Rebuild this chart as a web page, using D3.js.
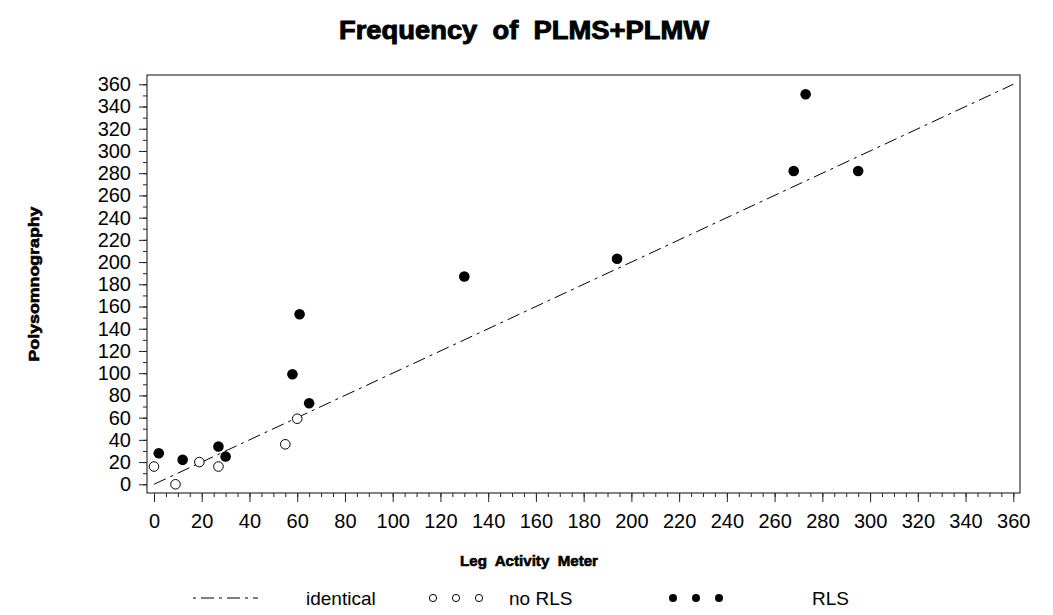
<!DOCTYPE html>
<html>
    <head>
        <title>Frequency of PLMS+PLMW</title>
        <script src="https://d3js.org/d3.v7.min.js"></script>
        <style>
            body { margin: 0; background: #fff; }
            text { font-family: "Liberation Sans", Arial, sans-serif; fill: #000; }
        </style>
    </head>
    <body>
        <script>
            // data
            const noRlsX = [0, 9, 19, 27, 55, 60];
            const noRlsY = [16, 0, 20, 16, 36, 59];
            const rlsX = [2, 12, 27, 30, 58, 61, 65, 130, 194, 268, 273, 295];
            const rlsY = [28, 22, 34, 25, 99, 153, 73, 187, 203, 282, 351, 282];
            const identLine = [0, 360];
            const majorTicks = d3.range(0, 361, 20);
            const xMinorTicks = d3.range(0, 361, 5);
            const yMinorTicks = d3.range(0, 361, 10);

            const WIDTH = 1053;
            const HEIGHT = 615;

            const svg = d3.select('body').append('svg')
                .attr("width", WIDTH)
                .attr("height", HEIGHT);

            // plot frame box
            const frame = {left: 147, right: 1020, top: 75, bottom: 493};

            const xScale = d3.scaleLinear().domain([0, 360]).range([154, 1013.3]);
            const yScale = d3.scaleLinear().domain([0, 360]).range([484.3, 84.3]);

            // title
            svg.append("text")
                .attr("x", 524)
                .attr("y", 39)
                .attr("text-anchor", "middle")
                .attr("textLength", 370)
                .attr("lengthAdjust", "spacingAndGlyphs")
                .style("font-size", "25px")
                .style("font-weight", "bold")
                .style("stroke", "#000")
                .style("stroke-width", 0.9)
                .style("white-space", "pre")
                .text("Frequency  of  PLMS+PLMW");

            // x axis: minor ticks then major ticks with labels
            svg.append("g")
                .attr("transform", "translate(0," + frame.bottom + ")")
                .call(d3.axisBottom(xScale).tickValues(xMinorTicks).tickSize(4).tickFormat(""))
                .call(g => g.select(".domain").remove());
            svg.append("g")
                .attr("class", "x-axis")
                .attr("transform", "translate(0," + frame.bottom + ")")
                .call(d3.axisBottom(xScale).tickValues(majorTicks).tickSize(9).tickPadding(12).tickFormat(d3.format("d")))
                .call(g => g.select(".domain").remove())
                .call(g => g.selectAll("text").style("font-size", "20px").attr("font-family", null));

            // y axis
            svg.append("g")
                .attr("transform", "translate(" + frame.left + ",0)")
                .call(d3.axisLeft(yScale).tickValues(yMinorTicks).tickSize(4).tickFormat(""))
                .call(g => g.select(".domain").remove());
            svg.append("g")
                .attr("class", "y-axis")
                .attr("transform", "translate(" + frame.left + ",0)")
                .call(d3.axisLeft(yScale).tickValues(majorTicks).tickSize(8).tickPadding(8).tickFormat(d3.format("d")))
                .call(g => g.select(".domain").remove())
                .call(g => g.selectAll("text").style("font-size", "20px").attr("font-family", null));

            svg.selectAll(".tick line").style("stroke", "#222");

            // frame
            svg.append("rect")
                .attr("x", frame.left)
                .attr("y", frame.top)
                .attr("width", frame.right - frame.left)
                .attr("height", frame.bottom - frame.top)
                .style("fill", "none")
                .style("stroke", "#333")
                .style("stroke-width", 1.2);

            // axis titles
            svg.append("text")
                .attr("x", 529)
                .attr("y", 566)
                .attr("text-anchor", "middle")
                .attr("textLength", 138)
                .attr("lengthAdjust", "spacingAndGlyphs")
                .style("font-size", "15px")
                .style("font-weight", "bold")
                .style("stroke", "#000")
                .style("stroke-width", 0.6)
                .style("white-space", "pre")
                .text("Leg  Activity  Meter");

            svg.append("text")
                .attr("transform", "translate(39,284) rotate(-90)")
                .attr("text-anchor", "middle")
                .attr("textLength", 155)
                .attr("lengthAdjust", "spacingAndGlyphs")
                .style("font-size", "15px")
                .style("font-weight", "bold")
                .style("stroke", "#000")
                .style("stroke-width", 0.6)
                .text("Polysomnography");

            // identity line
            const line = d3.line().x(d => xScale(d)).y(d => yScale(d));
            svg.append("path")
                .datum(identLine)
                .attr("d", line)
                .style("fill", "none")
                .style("stroke", "#000")
                .style("stroke-width", 1)
                .style("stroke-dasharray", "13,5,3,5");

            // points
            svg.selectAll(".open")
                .data(d3.zip(noRlsX, noRlsY))
                .enter()
                .append("circle")
                .attr("class", "open")
                .attr("cx", d => xScale(d[0]))
                .attr("cy", d => yScale(d[1]))
                .attr("r", 4.8)
                .style("fill", "#fff")
                .style("stroke", "#000")
                .style("stroke-width", 1);

            svg.selectAll(".filled")
                .data(d3.zip(rlsX, rlsY))
                .enter()
                .append("circle")
                .attr("class", "filled")
                .attr("cx", d => xScale(d[0]))
                .attr("cy", d => yScale(d[1]))
                .attr("r", 5.3)
                .style("fill", "#000");

            // legend
            const legY = 598;
            const leg = svg.append("g").attr("id", "legend");
            leg.append("line")
                .attr("x1", 193).attr("x2", 258)
                .attr("y1", legY).attr("y2", legY)
                .style("stroke", "#000")
                .style("stroke-dasharray", "3,5,13,5");
            leg.append("text").attr("x", 306).attr("y", legY + 7)
                .style("font-size", "19px").text("identical");
            [433, 456, 479].forEach(cx => {
                leg.append("circle").attr("cx", cx).attr("cy", legY).attr("r", 3.6)
                    .style("fill", "#fff").style("stroke", "#000");
            });
            leg.append("text").attr("x", 509).attr("y", legY + 7)
                .style("font-size", "19px").text("no RLS");
            [673, 696, 719].forEach(cx => {
                leg.append("circle").attr("cx", cx).attr("cy", legY).attr("r", 4)
                    .style("fill", "#000");
            });
            leg.append("text").attr("x", 812).attr("y", legY + 7)
                .style("font-size", "19px").text("RLS");
        </script>
    </body>
</html>
